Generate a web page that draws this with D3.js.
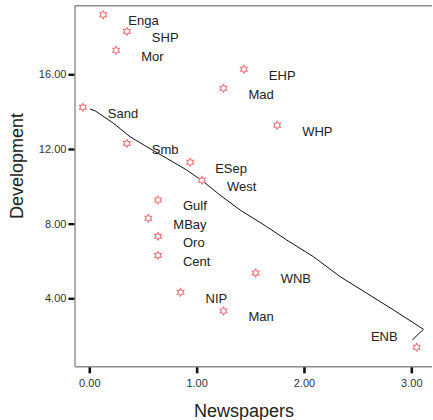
<!DOCTYPE html>
<html>
<head>
<meta charset="utf-8">
<script src="https://cdn.jsdelivr.net/npm/d3@7"></script>
<style>
  html, body { margin: 0; padding: 0; background: #fff; }
  svg { display: block; font-family: "Liberation Sans", Arial, sans-serif; }
</style>
</head>
<body>
<svg id="chart" width="433" height="420"></svg>
<script>
// Provinces: newspaper circulation vs. development index
const provinces = ["Enga", "SHP", "Mor", "EHP", "Mad", "Sand", "WHP", "Smb", "ESep",
                   "West", "Gulf", "MBay", "Oro", "Cent", "WNB", "NIP", "Man", "ENB"];
const newspapers = [0.13, 0.35, 0.25, 1.44, 1.25, -0.06, 1.75, 0.35, 0.94,
                    1.05, 0.64, 0.55, 0.64, 0.64, 1.55, 0.85, 1.25, 3.05];
const development = [19.19, 18.30, 17.29, 16.27, 15.25, 14.23, 13.27, 12.30, 11.29,
                     10.32, 9.27, 8.29, 7.32, 6.30, 5.36, 4.32, 3.32, 1.38];

// Smoothed fit line
const fitX = [0.007, 0.053, 0.224, 0.379, 0.535, 0.721, 0.908, 1.062, 1.218,
              1.405, 1.653, 1.840, 2.088, 2.337, 2.585, 2.833, 3.113, 3.010];
const fitY = [14.14, 14.05, 13.38, 12.66, 12.12, 11.50, 10.87, 10.25, 9.53,
              8.73, 7.84, 7.12, 6.23, 5.16, 4.27, 3.38, 2.34, 1.77];

const xTicks = [0, 1, 2, 3];
const yTicks = [4, 8, 12, 16];

const svg = d3.select("#chart");
const plotLeft = 75, plotRight = 432, plotTop = 5.7, plotBottom = 366.7;

const x = d3.scaleLinear().domain([-0.1332, 3.1929]).range([plotLeft, plotRight]);
const y = d3.scaleLinear().domain([0.336, 19.675]).range([plotBottom, plotTop]);

// Frame lines (left, bottom, top)
const frame = svg.append("g").attr("stroke", "#8c8c8c").attr("stroke-width", 1.4).attr("fill", "none");
frame.append("line").attr("x1", plotLeft).attr("x2", plotLeft).attr("y1", plotTop).attr("y2", plotBottom);
frame.append("line").attr("x1", plotLeft).attr("x2", plotRight).attr("y1", plotBottom).attr("y2", plotBottom);
frame.append("line").attr("x1", plotLeft).attr("x2", plotRight).attr("y1", plotTop).attr("y2", plotTop);

// X axis
const xAxis = svg.append("g")
  .attr("transform", `translate(0,${plotBottom + 0.6})`)
  .call(d3.axisBottom(x).tickValues(xTicks).tickFormat(d3.format(".2f")).tickSize(6).tickPadding(6));
xAxis.select(".domain").remove();
xAxis.selectAll(".tick line").attr("stroke", "#111").attr("stroke-width", 2.6);
xAxis.selectAll(".tick text").attr("font-size", 11).attr("fill", "#333")
  .attr("font-family", "Liberation Sans, Arial, sans-serif");

// Y axis
const yAxis = svg.append("g")
  .attr("transform", `translate(${plotLeft - 0.6},0)`)
  .call(d3.axisLeft(y).tickValues(yTicks).tickFormat(d3.format(".2f")).tickSize(6).tickPadding(2));
yAxis.select(".domain").remove();
yAxis.selectAll(".tick line").attr("stroke", "#111").attr("stroke-width", 2.4);
yAxis.selectAll(".tick text").attr("font-size", 11).attr("fill", "#333")
  .attr("font-family", "Liberation Sans, Arial, sans-serif");

// Axis titles
svg.append("text")
  .attr("x", 244).attr("y", 417)
  .attr("text-anchor", "middle").attr("font-size", 18).attr("fill", "#222")
  .text("Newspapers");
svg.append("text")
  .attr("transform", "translate(23,166) rotate(-90)")
  .attr("text-anchor", "middle").attr("font-size", 18).attr("fill", "#222")
  .text("Development");

// Fit line
const fitPts = fitX.map((v, i) => [v, fitY[i]]);
svg.append("path")
  .datum(fitPts)
  .attr("fill", "none").attr("stroke", "#111").attr("stroke-width", 1)
  .attr("d", d3.line().x(d => x(d[0])).y(d => y(d[1])));

// Star markers
const starPts = d3.range(12).map(i => [i * Math.PI / 6, i % 2 === 0 ? 3.9 : 2.3]);
const starPath = d3.lineRadial().curve(d3.curveLinearClosed)(starPts);

const points = provinces.map((name, i) => ({ name, nx: newspapers[i], dv: development[i] }));

const marks = svg.append("g");
marks.selectAll("path")
  .data(points)
  .join("path")
  .attr("transform", d => `translate(${x(d.nx)},${y(d.dv)})`)
  .attr("d", starPath)
  .attr("fill", "#fff")
  .attr("stroke", "#f07478")
  .attr("stroke-width", 1.1);

// Point labels
svg.append("g").selectAll("text")
  .data(points)
  .join("text")
  .attr("font-size", 13)
  .attr("fill", "#222")
  .attr("text-anchor", d => d.name === "ENB" ? "end" : "start")
  .attr("x", d => d.name === "ENB" ? x(d.nx) - 19 : x(d.nx) + 25)
  .attr("y", d => d.name === "ENB" ? y(d.dv) - 6 : y(d.dv) + 10.5)
  .text(d => d.name);
</script>
</body>
</html>
